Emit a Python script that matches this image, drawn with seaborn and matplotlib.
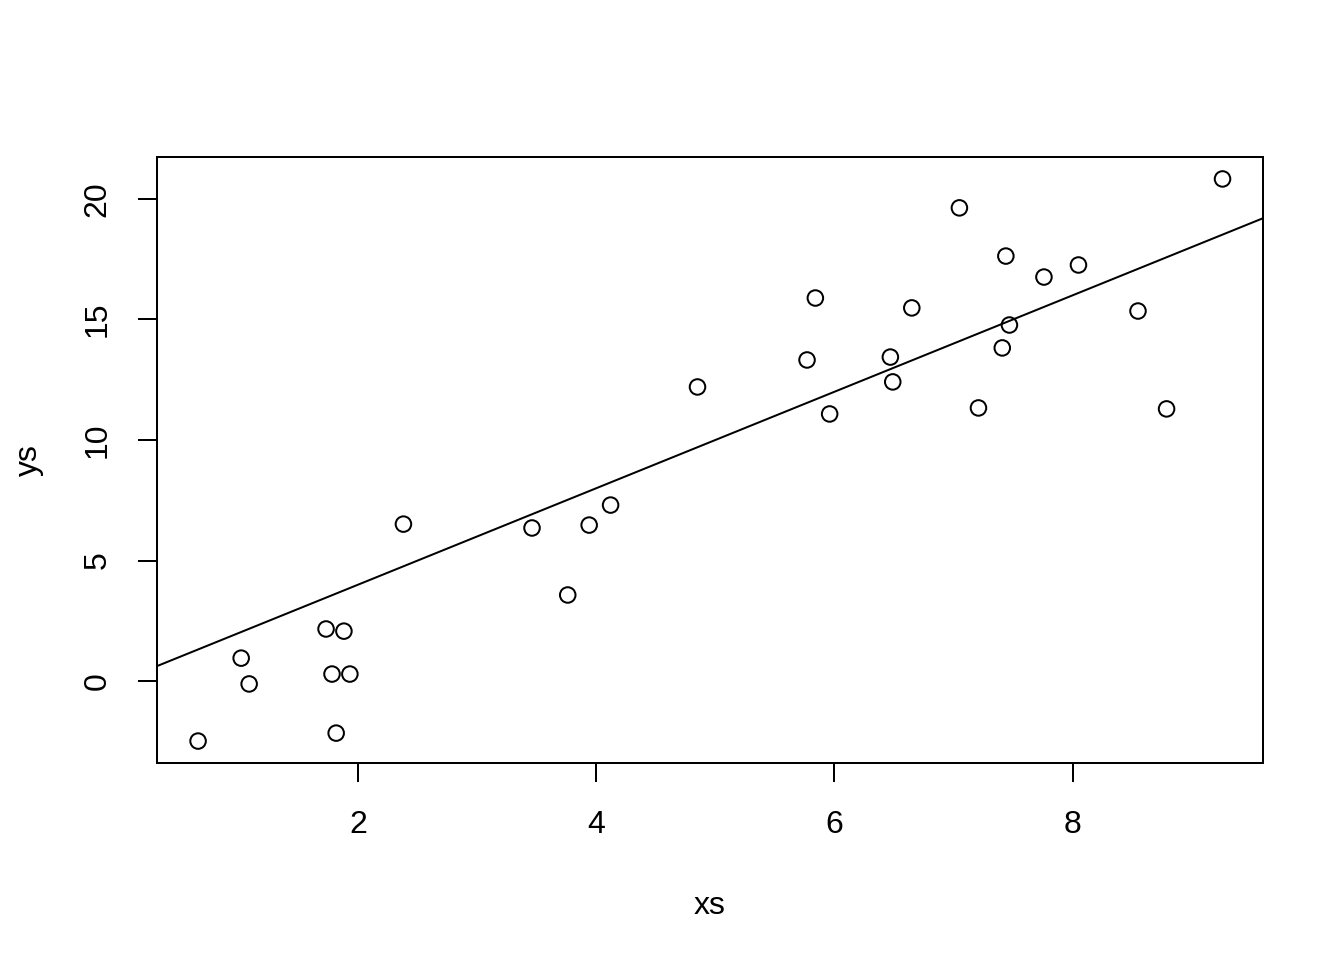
import numpy as np
import pandas as pd
import matplotlib
matplotlib.use("Agg")
import matplotlib.pyplot as plt
import seaborn as sns

xs = [0.655, 1.017, 1.084, 1.73, 1.78, 1.88, 1.815, 1.93, 2.38, 3.46,
      3.76, 3.94, 4.12, 4.85, 5.77, 5.84, 5.96, 6.47, 6.49, 6.65,
      7.05, 7.21, 7.41, 7.44, 7.47, 7.76, 8.05, 8.55, 8.79, 9.26]
ys = [-2.49, 0.95, -0.12, 2.16, 0.29, 2.07, -2.16, 0.29, 6.51, 6.35,
      3.57, 6.47, 7.30, 12.20, 13.32, 15.89, 11.08, 13.44, 12.41, 15.48,
      19.63, 11.33, 13.82, 17.63, 14.77, 16.76, 17.26, 15.35, 11.29, 20.83]
intercept = 0.0
slope = 2.0
x_ticks = [2, 4, 6, 8]
y_ticks = [0, 5, 10, 15, 20]

df = pd.DataFrame({"xs": xs, "ys": ys})

sns.set_theme(style="ticks")
plt.rcParams["font.family"] = ["Liberation Sans", "DejaVu Sans"]

fig = plt.figure(figsize=(13.44, 9.6), dpi=100)
ax = fig.add_axes([157/1344, 1 - 763/960, (1263-157)/1344, (763-157)/960])

sns.scatterplot(data=df, x="xs", y="ys", ax=ax, marker="o", s=125,
                facecolor="none", edgecolor="black", linewidth=1.44)
ax.axline((0, intercept), slope=slope, color="black", linewidth=1.44)

ax.set_xlim(0.31, 9.6)
ax.set_ylim(-3.40, 21.74)
ax.set_xticks(x_ticks)
ax.set_yticks(y_ticks)
ax.set_xticklabels([str(v) for v in x_ticks])
ax.set_yticklabels([str(v) for v in y_ticks], rotation=90, va="center")

for s in ax.spines.values():
    s.set_visible(True)
    s.set_linewidth(1.44)
    s.set_color("black")

ax.tick_params(axis="both", direction="out", length=13.8, width=1.44,
               colors="black", labelsize=23, labelcolor="black")
ax.tick_params(axis="x", pad=20)
ax.tick_params(axis="y", pad=18)

ax.set_xlabel("xs", fontsize=23, labelpad=37, color="black")
ax.set_ylabel("ys", fontsize=23, labelpad=28, color="black")

fig.savefig("out.png", dpi=100)
